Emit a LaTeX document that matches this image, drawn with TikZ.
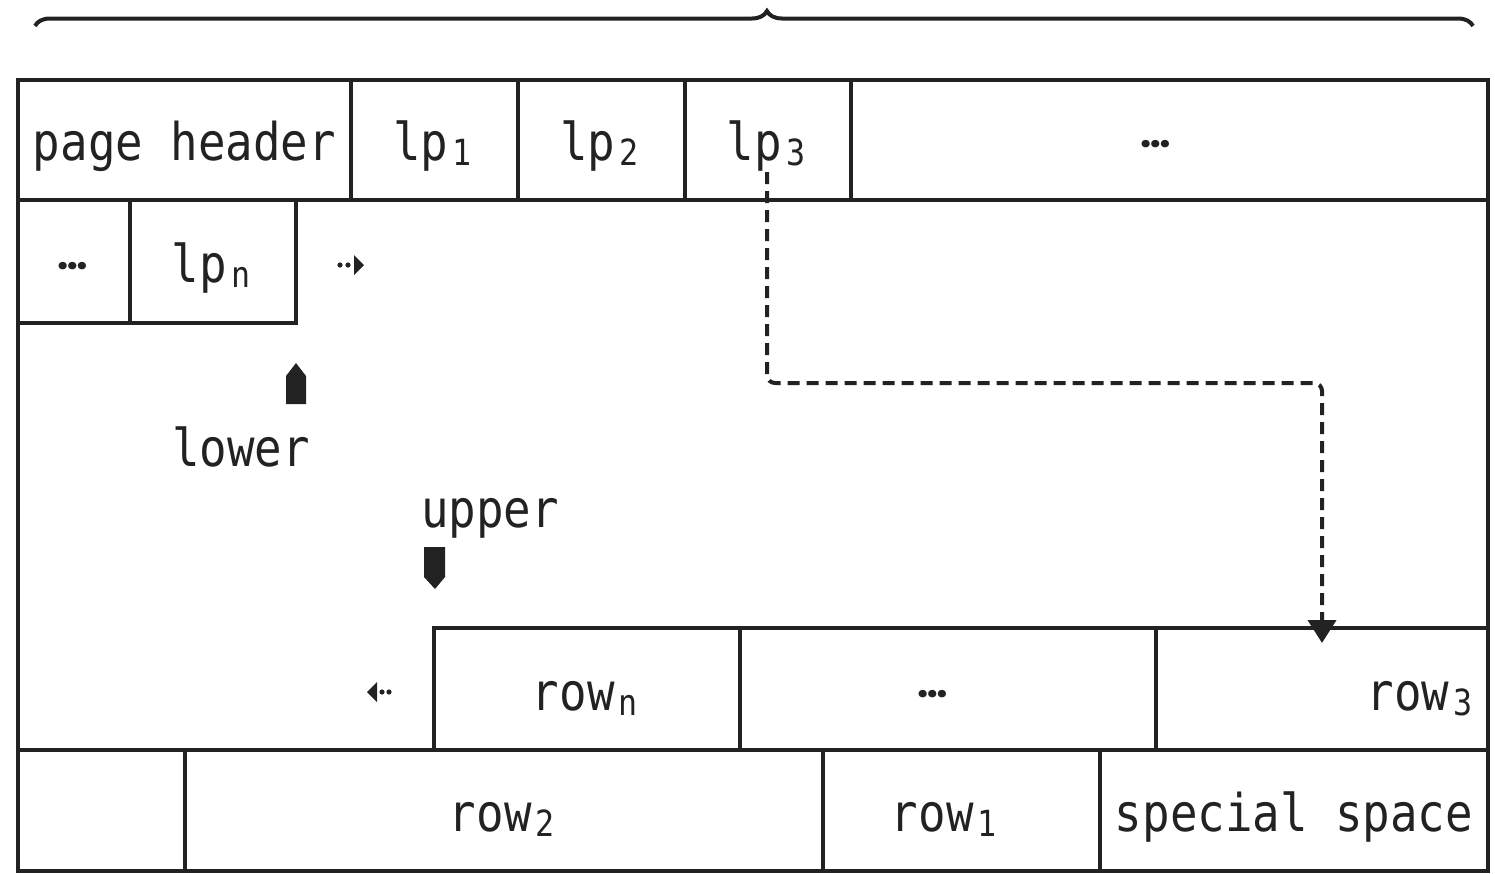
\documentclass[tikz,border=0pt]{standalone}
\usepackage{fontspec}
\setmainfont[FakeStretch=0.88]{DejaVu Sans Mono}
\newfontfamily\dotfont{Poppins}
\usetikzlibrary{arrows.meta,decorations.pathreplacing,calc}
\definecolor{ink}{HTML}{222222}
\newcommand{\sbs}[1]{\makebox[27.5pt][c]{\raisebox{-5pt}{\fontsize{36}{36}\selectfont #1}}}
\newcommand{\ellip}{\raisebox{13pt}{\dotfont\bfseries\fontsize{40}{40}\selectfont …}}
\tikzset{
  cell/.style={draw=ink, line width=4pt, rectangle, anchor=north west, inner sep=0pt, outer sep=0pt},
  lbl/.style={anchor=base, inner sep=0pt, text=ink, font=\fontsize{52}{52}\selectfont},
  dotlbl/.style={lbl},
  ptr/.style={fill=ink},
  flow/.style={draw=ink, line width=4pt, dash pattern=on 12pt off 7pt, rounded corners=8pt,
               -{Triangle[width=28pt,length=23pt]}},
  bracestyle/.style={draw=ink, line width=4pt, decorate, decoration={brace, amplitude=15pt, aspect=0.509}}
}
\begin{document}
\begin{tikzpicture}[x=1pt, y=-1pt]
\useasboundingbox (0,0) rectangle (1495,873);
% brace
\coordinate (bl) at (35,26);
\coordinate (br) at (1473,26);
\draw[bracestyle] (bl) -- (br);
% header row
\node[cell, minimum width=333pt, minimum height=120pt] (ph) at (18,80) {};
\node[cell, minimum width=167pt, minimum height=120pt] (lp1) at (351,80) {};
\node[cell, minimum width=167pt, minimum height=120pt] (lp2) at (518,80) {};
\node[cell, minimum width=166pt, minimum height=120pt] (lp3) at (685,80) {};
\node[cell, minimum width=637pt, minimum height=120pt] (dots1) at (851,80) {};
% second row
\node[cell, minimum width=112pt, minimum height=123pt] (d2) at (18,200) {};
\node[cell, minimum width=166pt, minimum height=123pt] (lpn) at (130,200) {};
% row n line
\node[cell, minimum width=306pt, minimum height=122pt] (rown) at (434,628) {};
\node[cell, minimum width=416pt, minimum height=122pt] (dots3) at (740,628) {};
\node[cell, minimum width=332pt, minimum height=122pt] (row3) at (1156,628) {};
% bottom row
\node[cell, minimum width=167pt, minimum height=121pt] (blank) at (18,750) {};
\node[cell, minimum width=638pt, minimum height=121pt] (row2) at (185,750) {};
\node[cell, minimum width=277pt, minimum height=121pt] (row1) at (823,750) {};
\node[cell, minimum width=388pt, minimum height=121pt] (spec) at (1100,750) {};
% page frame
\node[cell, minimum width=1470pt, minimum height=791pt] (page) at (18,80) {};
% labels
\node[lbl] (tph) at ($(ph.center)+(0,20)$) {page header};
\node[lbl] (tlp1) at ($(lp1.center)+(0,20)$) {lp\sbs{1}};
\node[lbl] (tlp2) at ($(lp2.center)+(0,20)$) {lp\sbs{2}};
\node[lbl] (tlp3) at ($(lp3.center)+(0,20)$) {lp\sbs{3}};
\node[dotlbl] (tdots1) at (1156,160) {\ellip};
\node[dotlbl] (tdots2) at (73,282) {\ellip};
\node[lbl] (tlpn) at ($(lpn.center)+(0,20.5)$) {lp\sbs{n}};
\node[lbl] (tlower) at (241,466) {lower};
\node[lbl] (tupper) at (490,527) {upper};
\node[lbl] (trown) at ($(rown.center)+(0,21)$) {row\sbs{n}};
\node[dotlbl] (tdots3) at (933,710) {\ellip};
\node[lbl, anchor=base east] (trow3) at (1477,710) {row\sbs{3}};
\node[lbl] (trow2) at ($(row2.center)+(0,21)$) {row\sbs{2}};
\node[lbl] (trow1) at (946,831) {row\sbs{1}};
\node[lbl] (tspec) at ($(spec.center)+(0,21)$) {special space};
% markers
\fill[ptr] (286,404) -- (286,376) -- (296,363) -- (306,376) -- (306,404) -- cycle;
\fill[ptr] (424,547) -- (445,547) -- (445,577) -- (435,589) -- (424,577) -- cycle;
% small arrows
\fill[ptr] (340,265) circle (2.6pt) (348,265) circle (2.6pt) (354,255) -- (364,265) -- (354,275) -- cycle;
\fill[ptr] (382,692) circle (2.6pt) (389,692) circle (2.6pt) (377,682) -- (367,692) -- (377,702) -- cycle;
% dashed connector
\coordinate (dstart) at ($(lp3.south)+(-1,-28)$);
\draw[flow] (dstart) |- ($(row3.north)+(0,-245)$) -- ($(row3.north)+(0,15)$);
\end{tikzpicture}
\end{document}
